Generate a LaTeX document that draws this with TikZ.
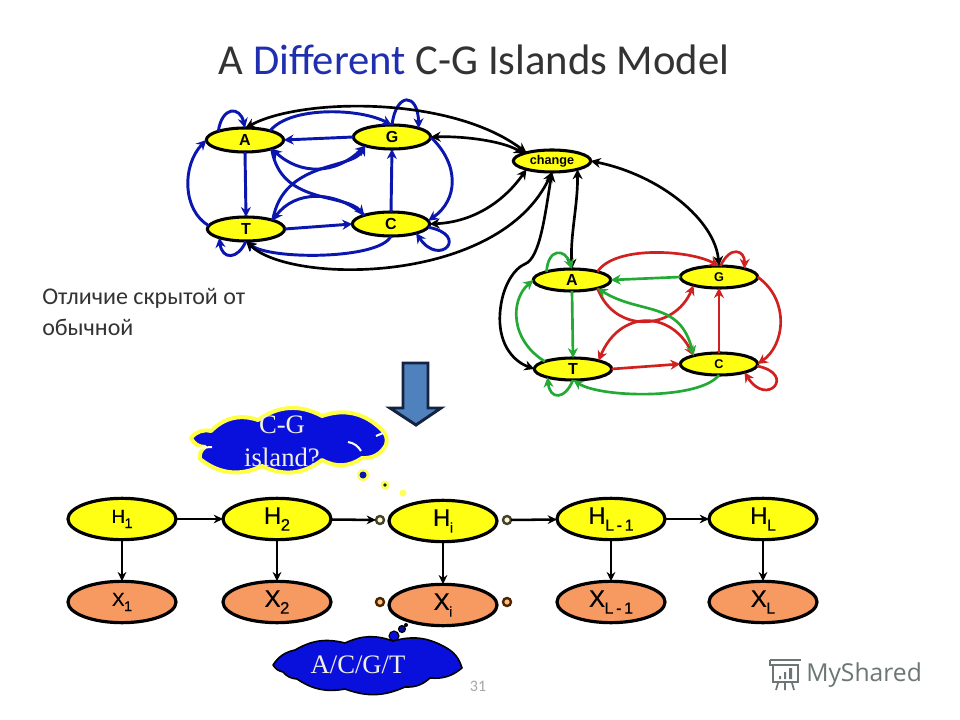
\documentclass[tikz,border=0pt]{standalone}
\usepackage{fontspec}
\setmainfont{Carlito}
\newfontfamily\arialf{Liberation Sans}
\newfontfamily\heavyf[FakeBold=0.5]{Liberation Sans}
\newfontfamily\timesf{Liberation Serif}
\newfontfamily\opensf{Open Sans}
\usetikzlibrary{arrows.meta,shapes.geometric}
\definecolor{nodeyellow}{HTML}{FFFF14}
\definecolor{nodeorange}{HTML}{F79A62}
\definecolor{edgeblue}{HTML}{0B16AE}
\definecolor{edgered}{HTML}{D0201F}
\definecolor{edgegreen}{HTML}{22AA35}
\definecolor{titlegray}{HTML}{333333}
\definecolor{titleblue}{HTML}{1F2FB0}
\definecolor{markgray}{HTML}{6B7675}
\definecolor{cloudblue}{HTML}{0A10DC}
\definecolor{arrowblue}{HTML}{4F81BD}
\definecolor{arrowdark}{HTML}{14233F}
\definecolor{cloudtext}{HTML}{F0F0E0}
\newcommand{\subl}[4]{{\heavyf\fontsize{#3}{#3}\selectfont #1\kern-.02em\raisebox{-.28em}{\fontsize{#4}{#4}\selectfont #2}}}
\tikzset{
  smallnode/.style={ellipse,draw=black,fill=nodeyellow,line width=2.3pt,minimum width=58pt,minimum height=18pt,inner sep=0pt,outer sep=0pt,font=\arialf\bfseries\fontsize{12}{12}\selectfont},
  smallertext/.style={font=\arialf\bfseries\fontsize{9.5}{10}\selectfont},
  hnode/.style={ellipse,draw=black,fill=nodeyellow,line width=2.4pt,minimum width=81pt,minimum height=31pt,inner sep=0pt,outer sep=0pt},
  xnode/.style={hnode,fill=nodeorange},
  dotnode/.style={circle,draw=#1,line width=1.8pt,minimum size=6pt,inner sep=0pt,outer sep=0pt},
  bl/.style={draw=edgeblue,line width=2.2pt,-{Stealth[length=7.5pt,width=7.5pt]}},
  rd/.style={draw=edgered,line width=2pt,-{Stealth[length=7.5pt,width=7.5pt]}},
  gn/.style={draw=edgegreen,line width=2pt,-{Stealth[length=7.5pt,width=7.5pt]}},
  bk/.style={draw=black,line width=2pt,{Stealth[length=7.5pt,width=7.5pt]}-{Stealth[length=7.5pt,width=7.5pt]}},
  hm/.style={draw=black,line width=1.9pt,-{Stealth[length=7pt,width=6.5pt]}},
  both/.style={{Stealth[length=7.5pt,width=7.5pt]}-{Stealth[length=7.5pt,width=7.5pt]}},
  lobe/.style={bend left=32},
  softlobe/.style={bend left=22},
}
\begin{document}
\begin{tikzpicture}[x=0.75pt,y=-0.75pt]
\useasboundingbox (0,0) rectangle (960,720);
\fill[white] (0,0) rectangle (960,720);

% title and text
\node[anchor=base,inner sep=0pt,text=titlegray,font=\fontsize{32}{32}\selectfont] (title) at (474,75) {A {\color{titleblue}Different} C-G Islands Model};
\node[anchor=base west,inner sep=0pt,text=titlegray,font=\fontsize{18}{18}\selectfont] (note1) at (42,305) {Отличие скрытой от};
\node[anchor=base west,inner sep=0pt,text=titlegray,font=\fontsize{18}{18}\selectfont] (note2) at (42,335) {обычной};

% upper-left graph nodes
\node[smallnode] (A) at (245,140) {A};
\node[smallnode] (G) at (392,137) {G};
\node[smallnode] (T) at (246,229) {T};
\node[smallnode] (C) at (391,224) {C};
\node[smallnode,minimum height=16.5pt,font=\arialf\bfseries\fontsize{9.5}{10}\selectfont] (Ch) at (552,161) {change};
% lower-right graph nodes
\node[smallnode,minimum height=16.5pt] (A2) at (572,280) {A};
\node[smallnode,minimum height=16.5pt,smallertext] (G2) at (719,277) {G};
\node[smallnode,minimum height=16.5pt] (T2) at (573,369) {T};
\node[smallnode,minimum height=16.5pt,smallertext] (C2) at (719,364) {C};

% blue edges
\draw[bl] (A.162) .. controls (222,106) and (240,106) .. (A.90);
\draw[bl] (A.20) .. controls (290,106) and (360,108) .. (G.92);
\draw[bl] (G.180) -- (A.0);
\draw[bl] (A.-90) -- (T.90);
\draw[bl] (T.175) .. controls (182,210) and (182,165) .. (A.180);
\draw[bl] (T.-90) .. controls (238,260) and (222,260) .. (T.-162);
\draw[bl] (T.0) -- (C.180);
\draw[bl] (C.90) -- (G.-90);
\draw[bl] (C.-90) .. controls (380,260) and (268,260) .. (T.-88);
\draw[bl] (G.90) .. controls (396,92) and (418,92) .. (G.18);
\draw[bl] (G.0) .. controls (460,165) and (458,200) .. (C.5);
\draw[bl] (C.-5) .. controls (470,235) and (440,268) .. (C.-20);
\draw[bl,both] (G.198) .. controls (335,175) and (300,175) .. (A.-18);
\draw[bl] (A.-18) .. controls (280,205) and (345,193) .. (C.162);
\draw[bl] (T.18) .. controls (283,160) and (352,170) .. (G.198);
\draw[bl] (C.162) .. controls (335,190) and (295,190) .. (T.18);

% black edges
\draw[bk] (A.88) .. controls (300,98) and (450,95) .. (Ch.162);
\draw[bk] (G.0) .. controls (460,136) and (500,140) .. (Ch.165);
\draw[bk] (C.0) .. controls (475,222) and (505,200) .. (Ch.198);
\draw[bk] (T.-90) .. controls (290,285) and (500,285) .. (Ch.-90);
\draw[bk] (Ch.-18) .. controls (578,205) and (570,235) .. (A2.90);
\draw[bk] (Ch.0) .. controls (660,175) and (715,220) .. (G2.90);
\draw[bk] (T2.180) .. controls (510,360) and (498,340) .. (500,313) .. controls (502,285) and (515,268) .. (525,264) .. controls (540,258) and (545,215) .. (Ch.-90);

% red and green edges
\draw[gn] (A2.162) .. controls (548,248) and (565,248) .. (A2.90);
\draw[rd] (A2.18) .. controls (615,245) and (690,250) .. (G2.90);
\draw[gn] (G2.180) -- (A2.0);
\draw[gn] (A2.-90) -- (T2.90);
\draw[gn] (T2.165) .. controls (510,340) and (510,300) .. (A2.180);
\draw[gn] (T2.-90) .. controls (565,400) and (550,400) .. (T2.-162);
\draw[rd] (T2.0) -- (C2.180);
\draw[rd] (C2.90) -- (G2.-90);
\draw[gn] (C2.-90) .. controls (700,400) and (600,398) .. (T2.-88);
\draw[rd] (G2.82) .. controls (730,245) and (745,250) .. (G2.18);
\draw[rd] (G2.0) .. controls (790,300) and (785,345) .. (C2.0);
\draw[rd] (C2.-3) .. controls (797,374) and (767,408) .. (C2.-18);
\draw[rd] (A2.-18) .. controls (615,335) and (675,330) .. (G2.198);
\draw[rd,both] (T2.18) .. controls (620,310) and (670,310) .. (C2.162);
\draw[gn,both] (C2.162) .. controls (680,300) and (640,315) .. (A2.-18);

% down arrow
\draw[draw=arrowdark,fill=arrowblue,line width=2.2pt,line join=miter] (403,363) -- (428,363) -- (428,408) -- (441,408) -- (416,425) -- (390,408) -- (403,408) -- cycle;

% thought cloud upper
\fill[nodeyellow!70!white] (363,475) circle (6);
\fill[edgeblue] (363,475) circle (3.5);
\fill[nodeyellow!70!white] (385,485) circle (4.5);
\fill[black!80!green] (385,485) circle (1.8);
\fill[nodeyellow!70!white] (403,493) circle (3.5);
\draw[nodeyellow!80!white,line width=3pt,line join=round,fill=cloudblue]
 (191,438) to[lobe] (211,431) to[lobe] (258,420) to[lobe] (322,416) to[lobe] (382,430) to[lobe] (386,445) to[lobe] (362,458) to[lobe] (322,460) to[lobe] (262,466) to[lobe] (200,459) to[lobe] (205,447) to[lobe] cycle;
\draw[white,line width=1.5pt] (196,448) -- (212,447);
\draw[white,line width=1.5pt] (376,436) -- (383,433);
\draw[white,line width=1.5pt] (348,442) .. controls (354,443) and (358,446) .. (361,451);
\node[text=cloudtext,inner sep=0pt,font=\timesf\fontsize{20}{20}\selectfont] (cl1a) at (282,425) {C-G};
\node[text=cloudtext,inner sep=0pt,font=\timesf\fontsize{20}{20}\selectfont] (cl1b) at (282,457) {island?};

% bottom chain nodes
\node[hnode] (H1) at (122,519) {\subl{H}{1}{14}{10.5}};
\node[hnode] (H2) at (277,519) {\subl{H}{2}{18}{12.5}};
\node[hnode] (Hi) at (443,521) {\subl{H}{i}{18}{10.5}};
\node[hnode] (HL1) at (611,519) {\subl{H}{L\,-\,1}{18}{12}};
\node[hnode] (HL) at (763,519) {\subl{H}{L}{18}{12}};
\node[xnode] (X1) at (122,602) {\subl{X}{1}{14}{10.5}};
\node[xnode] (X2) at (277,602) {\subl{X}{2}{18}{12.5}};
\node[xnode] (Xi) at (443,605) {\subl{X}{i}{18}{10.5}};
\node[xnode] (XL1) at (611,602) {\subl{X}{L\,-\,1}{18}{12}};
\node[xnode] (XL) at (763,602) {\subl{X}{L}{18}{12}};
\node[dotnode=black!85!yellow,fill=yellow!25!white] (d1) at (380,520) {};
\node[dotnode=black!85!yellow,fill=yellow!25!white] (d2) at (507,520) {};
\node[dotnode=black!70!orange,fill=orange!50!white] (d3) at (380,602) {};
\node[dotnode=black!70!orange,fill=orange!50!white] (d4) at (507,602) {};

\draw[hm] (H1) -- (H2);
\draw[hm] (H2) -- (d1);
\draw[hm] (d2) -- (HL1);
\draw[hm] (HL1) -- (HL);
\draw[hm] (H1) -- (X1);
\draw[hm] (H2) -- (X2);
\draw[hm] (Hi) -- (Xi);
\draw[hm] (HL1) -- (XL1);
\draw[hm] (HL) -- (XL);

% thought cloud lower
\fill[cloudblue,draw=black,line width=.8pt] (394,636) circle (5);
\fill[cloudblue!70!black,draw=black,line width=.8pt] (402,629) circle (3.5);
\fill[black] (406,625) circle (2);
\draw[black,line width=1.2pt,line join=round,fill=cloudblue]
 (273,665) to[softlobe] (295,650) to[softlobe] (345,643) to[softlobe] (393,641) to[softlobe] (445,647) to[softlobe] (462,668) to[softlobe] (430,678) to[softlobe] (405,687) to[softlobe] (345,689) to[softlobe] (297,679) to[softlobe] (283,672) to[softlobe] cycle;
\node[text=cloudtext,inner sep=0pt,font=\timesf\fontsize{20}{20}\selectfont] (cl2) at (358,665) {A/C/G/T};

% slide number
\node[text=black!35,inner sep=0pt,font=\fontsize{12}{12}\selectfont] (num) at (478,686) {31};

% watermark
\node[anchor=west,text=markgray,inner sep=0pt,font=\opensf\fontsize{18.5}{20}\selectfont] (mark) at (806,675) {MyShared};
\draw[markgray,line width=1.3pt] (773,665) rectangle (798,682);
\draw[markgray,line width=1.3pt] (770,660) -- (801,660) (770,660) -- (770,665) -- (773,665);
\fill[markgray] (779,676) rectangle (781,679) (784,672) rectangle (786,679) (789,668) rectangle (792,679);
\draw[markgray,line width=1.3pt] (778,683) -- (776,690) (785,683) -- (785,690) (792,683) -- (794,690);
\end{tikzpicture}
\end{document}
